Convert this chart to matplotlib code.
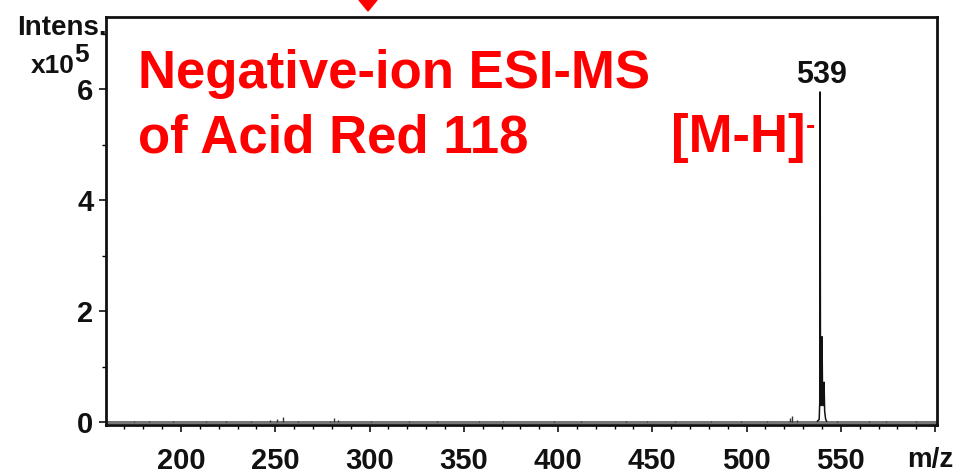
import matplotlib.pyplot as plt
import numpy as np
from matplotlib.ticker import MultipleLocator, FixedLocator
from matplotlib.patches import Polygon

# intensities in units of 1e5
peak_mz = [539.0]
peak_label = ["539"]

# profile of the main isotope cluster
cluster_mz = [537.6, 538.5, 538.8, 539.0, 539.2, 539.5, 539.8, 540.0, 540.3, 540.6, 540.9, 541.1, 541.4, 541.9, 542.4]
cluster_int = [0.02, 0.05, 0.35, 5.95, 0.45, 0.3, 0.9, 1.54, 0.5, 0.3, 0.55, 0.72, 0.2, 0.06, 0.02]

# small peaks in the baseline
minor_mz = [175, 183, 196, 213, 224, 237, 247, 251, 254, 262, 279, 281, 283, 301, 321, 336, 358, 371, 398, 412, 436, 447, 462, 481, 497, 511, 523, 524, 527, 548, 565, 574, 590]
minor_int = [0.02, 0.02, 0.02, 0.02, 0.03, 0.02, 0.04, 0.05, 0.1, 0.03, 0.03, 0.07, 0.04, 0.02, 0.02, 0.02, 0.03, 0.02, 0.03, 0.02, 0.02, 0.03, 0.02, 0.02, 0.03, 0.03, 0.08, 0.12, 0.04, 0.02, 0.02, 0.02, 0.02]

x_ticks = [200, 250, 300, 350, 400, 450, 500, 550, 600]
x_labels = ["200", "250", "300", "350", "400", "450", "500", "550", "m/z"]
y_ticks = [0, 2, 4, 6]

plt.rcParams['font.family'] = ['Liberation Sans', 'DejaVu Sans']
plt.rcParams['font.weight'] = 'bold'

W, H = 956, 475


def px(x, y):
    # pixel position (from top-left) -> figure fraction
    return x / W, 1 - y / H


fig = plt.figure(figsize=(W / 100, H / 100), dpi=100)
ax = fig.add_axes([106/W, 50/H, 831/W, 408/H])

# baseline
ax.plot([160, 601], [0.0, 0.0], color='#777777', lw=2.2, zorder=1)
ax.vlines(minor_mz, 0, minor_int, color='#333333', lw=1.0, zorder=2)
ax.plot(cluster_mz, cluster_int, color='#111111', lw=1.1, zorder=3)

for mz, lab in zip(peak_mz, peak_label):
    ax.text(mz + 0.5, 5.98, lab, ha='center', va='bottom', fontsize=22, fontweight='bold', color='#111111')

ax.set_xlim(160.2, 601)
ax.set_ylim(-0.05, 7.3)

ax.xaxis.set_major_locator(FixedLocator(x_ticks))
ax.set_xticklabels(x_labels)
ax.xaxis.set_minor_locator(MultipleLocator(10))
ax.yaxis.set_major_locator(FixedLocator(y_ticks))
ax.yaxis.set_minor_locator(FixedLocator([1, 3, 5, 7]))

ax.tick_params(axis='both', which='major', direction='out', length=5, width=1.2, labelsize=21, colors='#111111')
ax.tick_params(axis='both', which='minor', direction='out', length=3, width=1.0)
ax.tick_params(axis='x', pad=11)
ax.tick_params(axis='y', pad=4)
for lbl in ax.get_xticklabels() + ax.get_yticklabels():
    lbl.set_fontweight('bold')
xl = ax.get_xticklabels()
xl[-1].set_fontsize(20)
xl[-1].set_horizontalalignment('right')
# nudge m/z so it ends near the right edge like the original
import matplotlib.transforms as mtransforms
xl[-1].set_transform(xl[-1].get_transform() + mtransforms.ScaledTranslation(0.18, 0, fig.dpi_scale_trans))

for s in ax.spines.values():
    s.set_linewidth(2)
    s.set_color('#111111')

# red annotations
red = '#ff0000'
fig.text(*px(138, 88), "Negative-ion ESI-MS", ha='left', va='baseline', fontsize=38, fontweight='bold', color=red)
fig.text(*px(138, 152), "of Acid Red 118", ha='left', va='baseline', fontsize=38, fontweight='bold', color=red)
fig.text(*px(671, 152), "[M-H]", ha='left', va='baseline', fontsize=38, fontweight='bold', color=red)
fig.text(*px(806, 134), "-", ha='left', va='baseline', fontsize=20, fontweight='bold', color=red)

# axis captions
fig.text(*px(17, 35), "Intens.", ha='left', va='baseline', fontsize=20, fontweight='bold', color='#111111')
fig.text(*px(31, 73), "x10", ha='left', va='baseline', fontsize=19, fontweight='bold', color='#111111')
fig.text(*px(74, 62), "5", ha='left', va='baseline', fontsize=19, fontweight='bold', color='#111111')

# arrow tip at top
tri = Polygon([px(359, 0), px(377, 0), px(368, 11)], closed=True,
              transform=fig.transFigure, color=red, clip_on=False)
fig.patches.append(tri)

fig.savefig("out.png", dpi=100)
